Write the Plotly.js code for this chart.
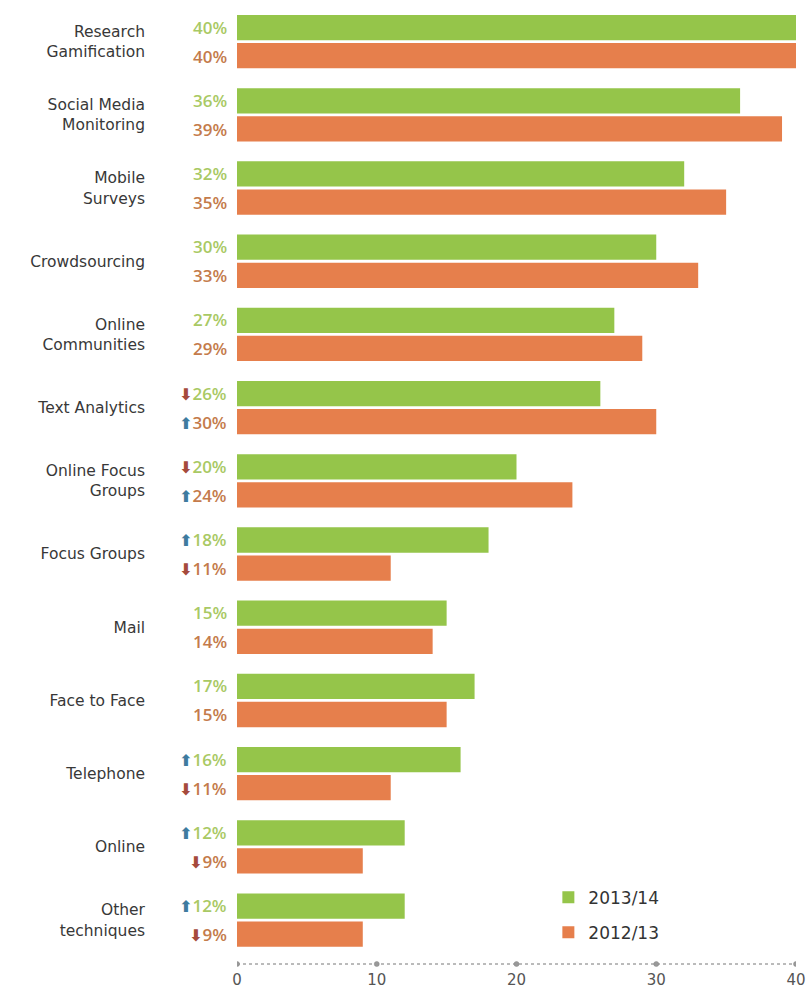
<!DOCTYPE html>
<html>
<head>
<meta charset="utf-8">
<script src="https://cdn.plot.ly/plotly-3.0.1.min.js"></script>
<style>html,body{margin:0;padding:0;background:#fff;}#chart{width:807px;height:988px;}</style>
</head>
<body>
<div id="chart"></div>
<script>
const categories = ['Research Gamification','Social Media Monitoring','Mobile Surveys','Crowdsourcing','Online Communities','Text Analytics','Online Focus Groups','Focus Groups','Mail','Face to Face','Telephone','Online','Other techniques'];
const tickLabels = ['Research<br>Gamification','Social Media<br>Monitoring','Mobile<br>Surveys','Crowdsourcing','Online<br>Communities','Text Analytics','Online Focus<br>Groups','Focus Groups','Mail','Face to Face','Telephone','Online','Other<br>techniques'];
const values2013 = [40,36,32,30,27,26,20,18,15,17,16,12,12];
const values2012 = [40,39,35,33,29,30,24,11,14,15,11,9,9];
const trend2013 = ['','','','','','down','down','up','','','up','up','up'];
const trend2012 = ['','','','','','up','up','down','','','down','down','down'];
const seriesNames = ['2013/14','2012/13'];
const xTicks = [0,10,20,30,40];

const GREEN = '#95c54a', ORANGE = '#e67f4c';
const GREEN_TXT = '#a9c964', ORANGE_TXT = '#c47b4b';
const UP = '#3f7b9f', DOWN = '#a54a3c';

const traces = [
  {type:'bar', orientation:'h', name:seriesNames[0], y:categories, x:values2013,
   marker:{color:GREEN}, legendgroup:'a', hoverinfo:'skip'},
  {type:'bar', orientation:'h', name:seriesNames[1], y:categories, x:values2012,
   marker:{color:ORANGE}, legendgroup:'b', hoverinfo:'skip'}
];

function arrow(t){
  if (t==='up') return '<span style="color:'+UP+';font-family:DejaVu Sans;font-size:16px">⬆</span>';
  if (t==='down') return '<span style="color:'+DOWN+';font-family:DejaVu Sans;font-size:16px">⬇</span>';
  return '';
}

const annotations = [];
categories.forEach((c,i)=>{
  annotations.push({xref:'x', yref:'y', x:0, y:c, xanchor:'right', yanchor:'middle', xshift:-8, yshift:14.5,
    text: arrow(trend2013[i]) + '<span style="color:'+GREEN_TXT+'">'+values2013[i]+'%</span>',
    showarrow:false, font:{family:'Open Sans, sans-serif', size:17, color:GREEN_TXT, weight:600}});
  annotations.push({xref:'x', yref:'y', x:0, y:c, xanchor:'right', yanchor:'middle', xshift:-8, yshift:-14.5,
    text: arrow(trend2012[i]) + '<span style="color:'+ORANGE_TXT+'">'+values2012[i]+'%</span>',
    showarrow:false, font:{family:'Open Sans, sans-serif', size:17, color:ORANGE_TXT, weight:600}});
});

const shapes = [
  {type:'line', xref:'x', yref:'paper', x0:xTicks[0], x1:xTicks[xTicks.length-1], y0:0, y1:0,
   line:{color:'#777', width:1, dash:'dot'}}
];
xTicks.forEach(v=>{
  shapes.push({type:'circle', xref:'x', yref:'paper', xsizemode:'pixel', ysizemode:'pixel',
    xanchor:v, yanchor:0, x0:-2.5, x1:2.5, y0:-2.5, y1:2.5,
    fillcolor:'#999', line:{color:'#888', width:0.5}});
});

const layout = {
  width:807, height:988,
  margin:{l:237, r:11, t:5, b:24, pad:0},
  paper_bgcolor:'#ffffff', plot_bgcolor:'#ffffff',
  barmode:'group', bargap:0.233, bargroupgap:0.1,
  showlegend:true,
  legend:{x:0.557, y:0.088, xanchor:'left', yanchor:'top', bgcolor:'rgba(0,0,0,0)',
    font:{family:'DejaVu Sans, sans-serif', size:17, color:'#333'}, tracegroupgap:10, traceorder:'grouped'},
  xaxis:{range:[0,40], tickvals:xTicks, ticktext:xTicks.map(String), showgrid:false, zeroline:false,
    showline:false, ticks:'', tickfont:{family:'DejaVu Sans, sans-serif', size:15, color:'#555'}, ticklabelstandoff:5},
  yaxis:{type:'category', range:[12.6,-0.5], tickvals:categories, ticktext:tickLabels, showgrid:false,
    zeroline:false, showline:false, ticks:'', ticklabelstandoff:91,
    tickfont:{family:'DejaVu Sans, sans-serif', size:15.5, color:'#383838'}},
  annotations:annotations,
  shapes:shapes
};

Plotly.newPlot('chart', traces, layout, {staticPlot:true, displayModeBar:false});
</script>
</body>
</html>
